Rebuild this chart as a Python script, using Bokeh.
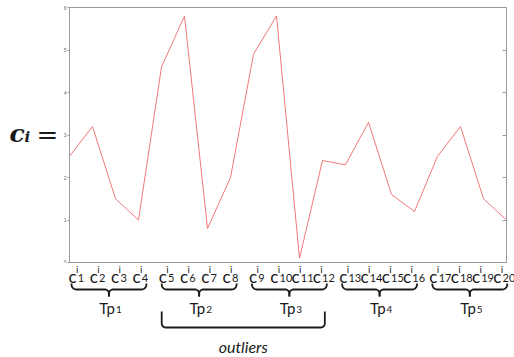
import numpy as np
from bokeh.plotting import figure
from bokeh.models import Range1d, LinearAxis, FixedTicker, CustomJSTickFormatter
from bokeh.layouts import column, row
from bokeh.core.properties import value
from bokeh.embed import file_html
from bokeh.resources import INLINE

# ---- data ----
index = list(range(1, 21))
values = [2.5, 3.2, 1.5, 1.0, 4.6, 5.8, 0.8, 2.0, 4.9, 5.8,
          0.1, 2.4, 2.3, 3.3, 1.6, 1.2, 2.5, 3.2, 1.5, 1.0]
y_ticks = [0, 1, 2, 3, 4, 5, 6]
subscripts = [str(i) for i in index]
group_names = ["1", "2", "3", "4", "5"]
group_size = 4
outlier_groups = [1, 2]

# ---- layout constants ----
W, H_TOP = 514, 263
H_BOT = 357 - H_TOP
LEFT_W = 60
FL, FR, FT, FB = 68, 506, 7, 262
GREY = "#9a9a9a"
TXT = "#1a1a1a"
FONT = "Lato"
DY = -6  # text baseline correction

def panel(w, h, x0, y0):
    f = figure(width=w, height=h, x_range=Range1d(x0, x0 + w), y_range=Range1d(y0 + h, y0),
               output_backend="svg", toolbar_location=None, x_axis_type=None, y_axis_type=None,
               min_border=0)
    f.xgrid.visible = False
    f.ygrid.visible = False
    f.outline_line_color = None
    f.background_fill_color = "white"
    f.border_fill_color = "white"
    return f

# ---- main chart ----
p = figure(width=W - LEFT_W, height=H_TOP, x_range=Range1d(1, 20), y_range=Range1d(0, 6),
           output_backend="svg", toolbar_location=None, x_axis_location=None,
           min_border_left=FL - LEFT_W, min_border_right=W - FR, min_border_top=FT,
           min_border_bottom=H_TOP - FB)
p.line(index, values, line_color="#f27878", line_width=1)
p.xgrid.visible = False
p.ygrid.visible = False
p.outline_line_color = GREY
p.background_fill_color = "white"
p.border_fill_color = "white"

ya = p.yaxis[0]
ya.ticker = FixedTicker(ticks=y_ticks)
ya.axis_line_color = GREY
ya.major_tick_line_color = GREY
ya.major_tick_in = 0
ya.major_tick_out = 2
ya.minor_tick_line_color = None
ya.major_label_text_font_size = "5px"
ya.major_label_text_color = "#666666"
ya.major_label_standoff = 1

ra = LinearAxis(ticker=FixedTicker(ticks=y_ticks),
                formatter=CustomJSTickFormatter(code="return ''"))
ra.axis_line_color = GREY
ra.major_tick_line_color = GREY
ra.major_tick_in = 4
ra.major_tick_out = 0
ra.minor_tick_line_color = None
ra.major_label_standoff = 0
p.add_layout(ra, "right")

# ---- left "c_i =" panel ----
lf = panel(LEFT_W, H_TOP, 0, 0)
lf.text(x=[9], y=[136 + DY], text=["c"], text_font=value("DejaVu Serif"), text_font_style="bold italic",
        text_font_size=value("25px"), text_color=TXT, text_baseline="alphabetic", text_align="left")
lf.text(x=[24], y=[140 + DY], text=["i"], text_font=value("DejaVu Serif"), text_font_style="bold italic",
        text_font_size=value("15px"), text_color=TXT, text_baseline="alphabetic", text_align="left")
lf.text(x=[36], y=[138 + DY], text=["="], text_font=value("DejaVu Serif"),
        text_font_size=value("26px"), text_color=TXT, text_baseline="alphabetic", text_align="left")

# ---- bottom annotation panel (pixel coordinates) ----
q = panel(W, H_BOT, 0, H_TOP)

step = (FR - FL) / 19
lx = []
for i in index:
    g, k = divmod(i - 1, group_size)
    first_px = FL + (g * group_size) * step
    lx.append(first_px - 2 * g + k * 21.3)
lx = np.array(lx)

q.text(x=lx, y=[282 + DY] * 20, text=["c"] * 20, text_font=value(FONT), text_font_size=value("17px"),
       text_color=TXT, text_baseline="alphabetic", text_align="left")
q.text(x=lx + 7.5, y=[274.5 + DY] * 20, text=["i"] * 20, text_font=value(FONT), text_font_size=value("10px"),
       text_color=TXT, text_baseline="alphabetic", text_align="left")
q.text(x=lx + 9.3, y=[283 + DY] * 20, text=subscripts, text_font=value(FONT), text_font_size=value("11px"),
       text_color=TXT, text_baseline="alphabetic", text_align="left")

def brace(L, R, top=283, mid=289, tip=296, r=5, r2=4):
    C = (L + R) / 2
    xs, ys = [], []
    xs.append(L); ys.append(top)
    t = np.linspace(np.pi, np.pi / 2, 8)
    xs += list(L + r + r * np.cos(t)); ys += list(mid - r + r * np.sin(t))
    t = np.linspace(-np.pi / 2, 0, 6)
    xs += list(C - r2 + r2 * np.cos(t)); ys += list(mid + r2 + r2 * np.sin(t))
    xs.append(C); ys.append(tip)
    xs2 = [2 * C - v for v in xs]
    return xs, ys, xs2, list(ys)

bxs, bys, cx = [], [], []
for g, name in enumerate(group_names):
    L = lx[g * group_size] + 3
    R = lx[g * group_size + group_size - 1] + 14
    a, b, c2, d = brace(L, R)
    bxs += [a, c2]; bys += [b, d]
    cx.append((L + R) / 2)
q.multi_line(bxs, bys, line_color=TXT, line_width=1.8)

cx = np.array(cx)
q.text(x=cx + 6, y=[313 + DY] * 5, text=["Tp"] * 5, text_font=value(FONT), text_font_size=value("15px"),
       text_color=TXT, text_baseline="alphabetic", text_align="right")
q.text(x=cx + 7, y=[315 + DY] * 5, text=group_names, text_font=value(FONT), text_font_size=value("10px"),
       text_color=TXT, text_baseline="alphabetic", text_align="left")

oL = lx[outlier_groups[0] * group_size] + 3
oR = lx[outlier_groups[-1] * group_size + group_size - 1] + 12
rr = 4
ox = [oL]; oy = [311]
t = np.linspace(np.pi, np.pi / 2, 8)
ox += list(oL + rr + rr * np.cos(t)); oy += list(327 - rr + rr * np.sin(t))
t = np.linspace(np.pi / 2, 0, 8)
ox += list(oR - rr + rr * np.cos(t)); oy += list(327 - rr + rr * np.sin(t))
ox.append(oR); oy.append(311)
q.line(ox, oy, line_color=TXT, line_width=1.8)
q.text(x=[(oL + oR) / 2], y=[352 + DY], text=["outliers"], text_font=value(FONT),
       text_font_style="italic", text_font_size=value("16px"), text_color=TXT,
       text_baseline="alphabetic", text_align="center")

layout = column(row(lf, p, spacing=0), q, spacing=0)
open("out.html", "w").write(file_html(layout, INLINE))
